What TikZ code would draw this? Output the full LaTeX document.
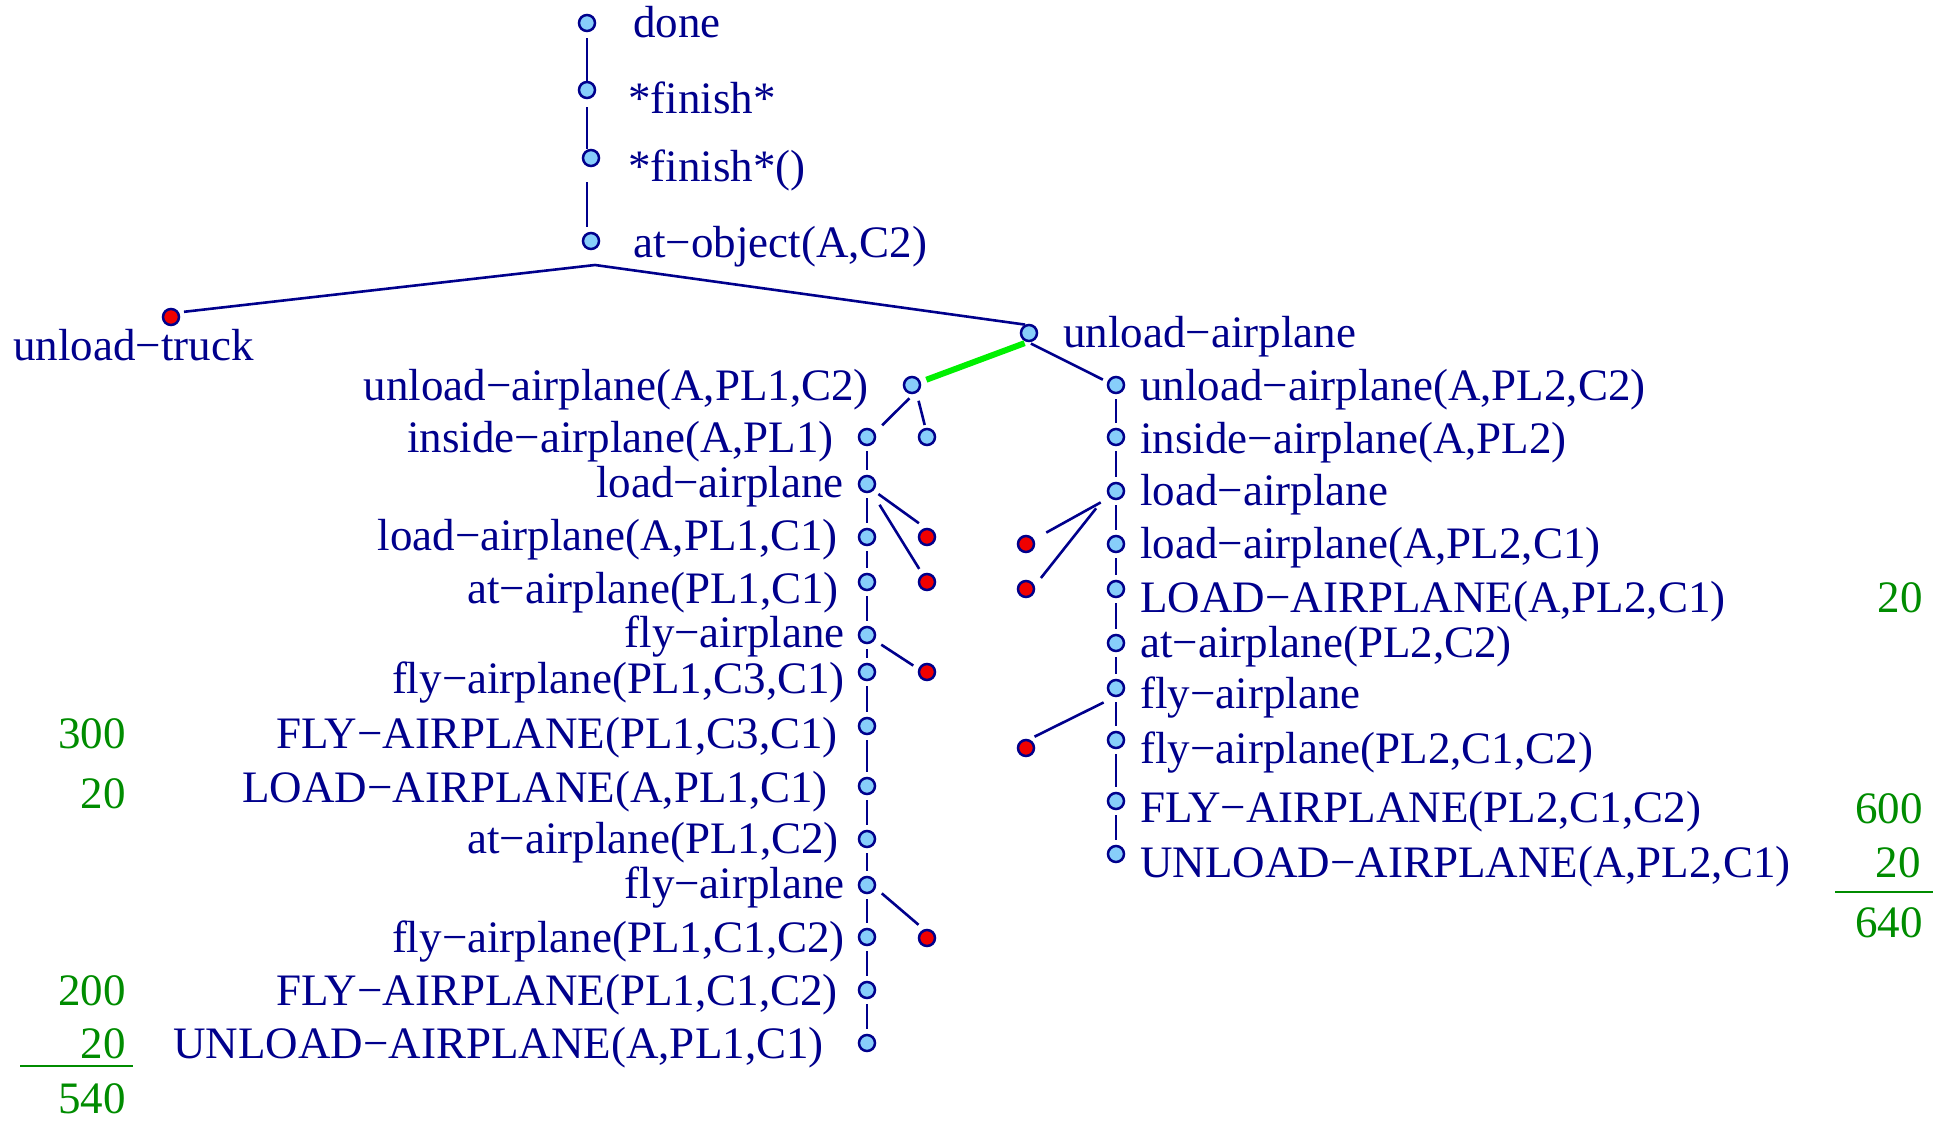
\documentclass[tikz,border=0pt]{standalone}
\usepackage{fontspec}
\setmainfont{Liberation Serif}
\definecolor{ink}{RGB}{0,0,140}
\definecolor{dotfill}{RGB}{135,206,250}
\definecolor{deadfill}{RGB}{240,0,0}
\definecolor{tally}{RGB}{0,140,0}
\definecolor{chosen}{RGB}{0,240,0}
\tikzset{
  dot/.style={circle, draw=ink, line width=2.5pt, fill=dotfill, minimum size=16pt, inner sep=0pt},
  dead/.style={dot, fill=deadfill},
  link/.style={draw=ink, line width=2.6pt, shorten <=5pt, shorten >=5pt},
  bestlink/.style={draw=chosen, line width=6pt},
  lbl/.style={text=ink, inner sep=0pt, font=\fontsize{45}{54}\selectfont},
  num/.style={text=tally, inner sep=0pt, font=\fontsize{45}{54}\selectfont, anchor=base east},
  sumline/.style={draw=tally, line width=2.6pt},
}
\begin{document}
\begin{tikzpicture}[x=1pt,y=-1pt]
\useasboundingbox (0,0) rectangle (1935,1122);

% goal chain at the top
\node[dot] (done) at (587,23) {};
\node[dot] (fin1) at (587,90) {};
\node[dot] (fin2) at (591,158) {};
\node[dot] (atobj) at (591,241) {};
\node[lbl, anchor=base west] (t-done) at (633,37) {done};
\node[lbl, anchor=base west] (t-fin1) at (628,113) {*finish*};
\node[lbl, anchor=base west] (t-fin2) at (628,181) {*finish*()};
\node[lbl, anchor=base west] (t-atobj) at (633,257) {at−object(A,C2)};
\draw[link, shorten <=6pt, shorten >=0pt] (done) -- (fin1);
\draw[link, shorten <=8pt, shorten >=0pt] (fin1) -- (fin1 |- fin2.north);
\draw[link, shorten <=15pt, shorten >=5pt] (fin2.south -| fin1) -- (atobj.north -| fin1);

% the two ways to achieve at-object
\coordinate (fork) at (595,265);
\node[dead] (truck) at (171,317) {};
\node[lbl, anchor=base west] (t-truck) at (13,360) {unload−truck};
\node[dot] (ua) at (1029,333) {};
\node[lbl, anchor=base west] (t-ua) at (1063,347) {unload−airplane};
\draw[link, shorten <=5pt, shorten >=0pt] (truck.30) -- (fork) -- (ua.115);

% left refinement: plane PL1
\node[dot] (ua1) at (912,385) {};
\node[dot] (in1) at (867,437) {};
\node[dot] (b2) at (927,437) {};
\node[dot] (la1) at (867,484) {};
\node[dot] (la1b) at (867,537) {};
\node[dead] (r1) at (927,537) {};
\node[dot] (ap1) at (867,582) {};
\node[dead] (r2) at (927,582) {};
\node[dot] (fa1) at (867,635) {};
\node[dot] (fa1b) at (867,672) {};
\node[dead] (r3) at (927,672) {};
\node[dot] (FA1) at (867,726) {};
\node[dot] (LA1) at (867,786) {};
\node[dot] (ap2) at (867,839) {};
\node[dot] (fa2) at (867,885) {};
\node[dot] (fa2b) at (867,937) {};
\node[dead] (r4) at (927,938) {};
\node[dot] (FA2) at (867,990) {};
\node[dot] (UA1) at (867,1043) {};

\node[lbl, anchor=base east] (t-ua1) at (869,400) {unload−airplane(A,PL1,C2)};
\node[lbl, anchor=base east] (t-in1) at (834,452) {inside−airplane(A,PL1)};
\node[lbl, anchor=base east] (t-la1) at (844,497) {load−airplane};
\node[lbl, anchor=base east] (t-la1b) at (838,550) {load−airplane(A,PL1,C1)};
\node[lbl, anchor=base east] (t-ap1) at (839,603) {at−airplane(PL1,C1)};
\node[lbl, anchor=base east] (t-fa1) at (845,647) {fly−airplane};
\node[lbl, anchor=base east] (t-fa1b) at (845,693) {fly−airplane(PL1,C3,C1)};
\node[lbl, anchor=base east] (t-FA1) at (838,748) {FLY−AIRPLANE(PL1,C3,C1)};
\node[lbl, anchor=base east] (t-LA1) at (828,802) {LOAD−AIRPLANE(A,PL1,C1)};
\node[lbl, anchor=base east] (t-ap2) at (839,853) {at−airplane(PL1,C2)};
\node[lbl, anchor=base east] (t-fa2) at (845,898) {fly−airplane};
\node[lbl, anchor=base east] (t-fa2b) at (845,952) {fly−airplane(PL1,C1,C2)};
\node[lbl, anchor=base east] (t-FA2) at (838,1005) {FLY−AIRPLANE(PL1,C1,C2)};
\node[lbl, anchor=base east] (t-UA1) at (824,1058) {UNLOAD−AIRPLANE(A,PL1,C1)};

\draw[bestlink, shorten <=3pt, shorten >=6pt] (ua.-100) -- (ua1.20);
\draw[link, shorten <=6pt, shorten >=10pt] (ua1.-80) -- (in1.30);
\draw[link, shorten <=8pt, shorten >=3pt] (ua1.-60) -- (b2.100);
\draw[link] (in1) -- (la1);
\draw[link] (la1) -- (la1b);
\draw[link, shorten <=6pt, shorten >=8pt] (la1.-45) -- (r1.100);
\draw[link, shorten <=15pt, shorten >=6pt] (la1.-60) -- (r2.120);
\draw[link] (la1b) -- (ap1);
\draw[link] (ap1) -- (fa1);
\draw[link] (fa1) -- (fa1b);
\draw[link, shorten <=8pt, shorten >=6pt] (fa1.-35) -- (r3.160);
\draw[link] (fa1b) -- (FA1);
\draw[link] (FA1) -- (LA1);
\draw[link] (LA1) -- (ap2);
\draw[link] (ap2) -- (fa2);
\draw[link] (fa2) -- (fa2b);
\draw[link, shorten <=8pt, shorten >=7pt] (fa2.-20) -- (r4.110);
\draw[link] (fa2b) -- (FA2);
\draw[link] (FA2) -- (UA1);

% costs of the PL1 plan
\node[num] (c1) at (126,748) {300};
\node[num] (c2) at (126,808) {20};
\node[num] (c3) at (126,1005) {200};
\node[num] (c4) at (126,1058) {20};
\draw[sumline] (20,1066) -- (133,1066);
\node[num] (c5) at (126,1113) {540};

% right refinement: plane PL2
\node[dot] (ua2) at (1116,385) {};
\node[dot] (in2) at (1116,437) {};
\node[dot] (la2) at (1116,491) {};
\node[dot] (la2b) at (1116,544) {};
\node[dead] (r5) at (1026,544) {};
\node[dot] (LA2) at (1116,589) {};
\node[dead] (r6) at (1026,589) {};
\node[dot] (ap3) at (1116,643) {};
\node[dot] (fa3) at (1116,688) {};
\node[dot] (fa3b) at (1116,740) {};
\node[dead] (r7) at (1026,748) {};
\node[dot] (FA3) at (1116,801) {};
\node[dot] (UA2) at (1116,854) {};

\node[lbl, anchor=base west] (t-ua2) at (1140,400) {unload−airplane(A,PL2,C2)};
\node[lbl, anchor=base west] (t-in2) at (1140,453) {inside−airplane(A,PL2)};
\node[lbl, anchor=base west] (t-la2) at (1140,505) {load−airplane};
\node[lbl, anchor=base west] (t-la2b) at (1140,558) {load−airplane(A,PL2,C1)};
\node[lbl, anchor=base west] (t-LA2) at (1140,612) {LOAD−AIRPLANE(A,PL2,C1)};
\node[lbl, anchor=base west] (t-ap3) at (1140,657) {at−airplane(PL2,C2)};
\node[lbl, anchor=base west] (t-fa3) at (1140,708) {fly−airplane};
\node[lbl, anchor=base west] (t-fa3b) at (1140,763) {fly−airplane(PL2,C1,C2)};
\node[lbl, anchor=base west] (t-FA3) at (1140,822) {FLY−AIRPLANE(PL2,C1,C2)};
\node[lbl, anchor=base west] (t-UA2) at (1140,877) {UNLOAD−AIRPLANE(A,PL2,C1)};

\draw[link, shorten <=3pt, shorten >=5pt] (ua.-95) -- (ua2.160);
\draw[link] (ua2) -- (in2);
\draw[link] (in2) -- (la2);
\draw[link] (la2) -- (la2b);
\draw[link, shorten <=10pt, shorten >=14pt] (la2.-135) -- (r5.30);
\draw[link, shorten <=18pt, shorten >=10pt] (la2.-160) -- (r6.20);
\draw[link] (la2b) -- (LA2);
\draw[link] (LA2) -- (ap3);
\draw[link] (ap3) -- (fa3);
\draw[link] (fa3) -- (fa3b);
\draw[link, shorten <=12pt, shorten >=6pt] (fa3.-100) -- (r7.70);
\draw[link] (fa3b) -- (FA3);
\draw[link] (FA3) -- (UA2);

% costs of the PL2 plan
\node[num] (c6) at (1923,612) {20};
\node[num] (c7) at (1923,823) {600};
\node[num] (c8) at (1921,877) {20};
\draw[sumline] (1835,892) -- (1933,892);
\node[num] (c9) at (1923,937) {640};
\end{tikzpicture}
\end{document}
